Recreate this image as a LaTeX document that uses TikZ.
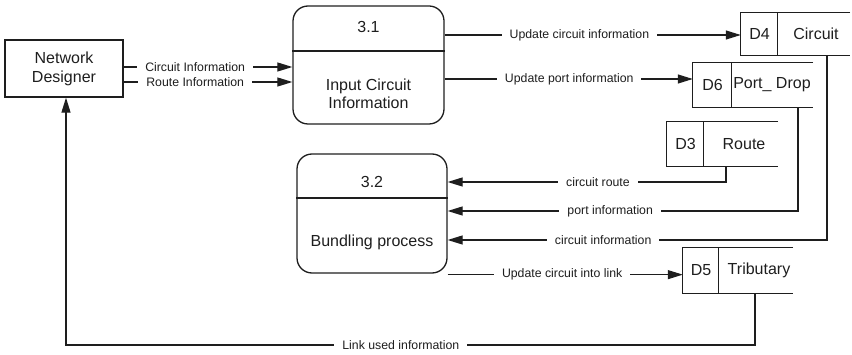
\documentclass[tikz,border=0pt]{standalone}
\usepackage{fontspec}
\setmainfont{Liberation Sans}
\usetikzlibrary{arrows.meta,calc}
\definecolor{ink}{HTML}{1E1E1E}

\begin{document}
\begin{tikzpicture}[x=1pt,y=-1pt,
  bigtxt/.style={inner sep=0pt, align=center, text=ink,
    font=\fontsize{16}{18.5}\selectfont},
  ext/.style={draw=ink, line width=1.3pt, inner sep=0pt, align=center,
    text=ink, font=\fontsize{16}{19}\selectfont},
  proc/.style={draw=ink, line width=1.3pt, rounded corners=15pt, inner sep=0pt},
  store/.style={inner sep=0pt},
  plain/.style={draw=ink, line width=1.1pt},
  flow/.style={draw=ink, line width=1.1pt, -{Triangle[length=15pt,width=9pt]}},
  lbl/.style={fill=white, inner xsep=8pt, inner ysep=1pt, text=ink,
    font=\fontsize{12.3}{14}\selectfont}]

\useasboundingbox (0,0) rectangle (852,355);

% external entity
\node[ext, minimum width=118pt, minimum height=57pt] (nd) at (64,68.5) {Network\\Designer};

% process 3.1
\node[proc, minimum width=151pt, minimum height=118pt] (p31) at (368.5,65) {};
\draw[plain, line width=1.3pt] (p31.west |- 0,51) -- (p31.east |- 0,51);
\node[bigtxt] (p31id) at (368.5,27) {3.1};
\node[bigtxt] (p31nm) at (368.5,94) {Input Circuit\\Information};

% process 3.2
\node[proc, minimum width=150pt, minimum height=119pt] (p32) at (372,213.5) {};
\draw[plain, line width=1.3pt] (p32.west |- 0,198) -- (p32.east |- 0,198);
\node[bigtxt] (p32id) at (372,182) {3.2};
\node[bigtxt] (p32nm) at (372,242) {Bundling process};

% data stores (open on the right)
\node[store, minimum width=109pt, minimum height=42pt] (d4) at (795.5,34) {};
\draw[plain] (d4.north east) -- (d4.north west) -- (d4.south west) -- (d4.south east);
\draw[plain] ([xshift=37pt]d4.north west) -- ([xshift=37pt]d4.south west);
\node[bigtxt] (d4id) at (759.5,34) {D4};
\node[bigtxt] (d4nm) at (816,34) {Circuit};

\node[store, minimum width=120pt, minimum height=44pt] (d6) at (753,85) {};
\draw[plain] (d6.north east) -- (d6.north west) -- (d6.south west) -- (d6.south east);
\draw[plain] ([xshift=39pt]d6.north west) -- ([xshift=39pt]d6.south west);
\node[bigtxt] (d6id) at (712.5,85) {D6};
\node[bigtxt] (d6nm) at (772,85) {Port\_ Drop};

\node[store, minimum width=111pt, minimum height=44pt] (d3) at (722.5,144) {};
\draw[plain] (d3.north east) -- (d3.north west) -- (d3.south west) -- (d3.south east);
\draw[plain] ([xshift=37pt]d3.north west) -- ([xshift=37pt]d3.south west);
\node[bigtxt] (d3id) at (685.5,144) {D3};
\node[bigtxt] (d3nm) at (744,144) {Route};

\node[store, minimum width=110pt, minimum height=45pt] (d5) at (738,270.5) {};
\draw[plain] (d5.north east) -- (d5.north west) -- (d5.south west) -- (d5.south east);
\draw[plain] ([xshift=36pt]d5.north west) -- ([xshift=36pt]d5.south west);
\node[bigtxt] (d5id) at (701,270.5) {D5};
\node[bigtxt] (d5nm) at (759,270.5) {Tributary};

% flows from the network designer
\coordinate (ciS) at ([yshift=1.5pt]nd.east);
\coordinate (riS) at ([yshift=-13.5pt]nd.east);
\draw[flow] (ciS) -- node[lbl, pos=0.424] {Circuit Information} (ciS -| p31.west);
\draw[flow] (riS) -- node[lbl, pos=0.424] {Route Information} (riS -| p31.west);

% flows out of process 3.1
\coordinate (ucS) at ([yshift=30pt]p31.east);
\coordinate (upS) at ([yshift=-14pt]p31.east);
\draw[flow] (ucS) -- node[lbl, pos=0.455] {Update circuit information} (ucS -| d4.west);
\draw[flow] (upS) -- node[lbl, pos=0.502] {Update port information} (upS -| d6.west);

% flows into process 3.2
\coordinate (crS) at ([xshift=3.5pt]d3.south);
\coordinate (piS) at ([xshift=45pt]d6.south);
\coordinate (cfS) at ([xshift=31.5pt]d4.south);
\draw[flow] (crS) |- node[lbl, pos=0.73] {circuit route} (p32.east |- 0,182);
\draw[flow] (piS) |- node[lbl, pos=0.768] {port information} (p32.east |- 0,211);
\draw[flow] (cfS) |- node[lbl, pos=0.795] {circuit information} (p32.east |- 0,240);

% flow out of process 3.2
\coordinate (ulS) at ([yshift=-1pt]p32.south east);
\draw[flow] (ulS) -- node[lbl, pos=0.487] {Update circuit into link} (ulS -| d5.west);

% link usage back to the designer
\coordinate (luS) at ([xshift=17pt]d5.south);
\coordinate (luE) at ([xshift=2pt]nd.south);
\draw[flow] (luS) -- (luS |- 0,345) -- node[lbl, pos=0.514] {Link used information} (luE |- 0,345) -- (luE);

\end{tikzpicture}
\end{document}
